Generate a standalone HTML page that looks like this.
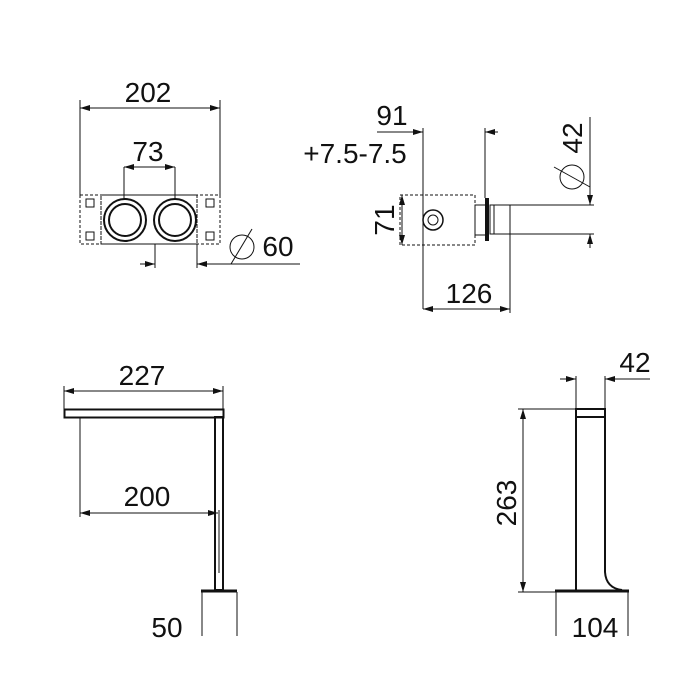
<!DOCTYPE html>
<html><head><style>html,body{margin:0;padding:0;background:#fff}svg{display:block}</style></head>
<body>
<svg width="700" height="700" viewBox="0 0 700 700" xmlns="http://www.w3.org/2000/svg" font-family="Liberation Sans, sans-serif" font-size="28" fill="#111">
<defs>
<marker id="a" viewBox="0 0 10 6" refX="10" refY="3" markerWidth="10" markerHeight="6" orient="auto-start-reverse" markerUnits="userSpaceOnUse"><path d="M0,0 L10,3 L0,6 z" fill="#111"/></marker>
</defs>
<g stroke="#111" stroke-width="1" fill="none">
<!-- top-left -->
<line x1="80" y1="108" x2="220" y2="108" marker-start="url(#a)" marker-end="url(#a)"/>
<line x1="80" y1="100" x2="80" y2="195"/><line x1="220" y1="100" x2="220" y2="195"/>
<rect x="80" y="195" width="140" height="49" stroke-dasharray="3,2"/>
<rect x="101" y="195" width="96" height="49" stroke-dasharray="4,1"/>
<circle cx="125" cy="220" r="21" stroke-width="2"/><circle cx="125" cy="220" r="16" stroke-width="2"/>
<circle cx="175" cy="220" r="21" stroke-width="2"/><circle cx="175" cy="220" r="16" stroke-width="2"/>
<rect x="86" y="199" width="8" height="8"/><rect x="86" y="232" width="8" height="8"/>
<rect x="206" y="199" width="8" height="8"/><rect x="206" y="232" width="8" height="8"/>
<line x1="124" y1="167" x2="175" y2="167" marker-start="url(#a)" marker-end="url(#a)"/>
<line x1="124" y1="167" x2="124" y2="200"/><line x1="175" y1="167" x2="175" y2="200"/>
<line x1="140" y1="264" x2="155" y2="264" marker-end="url(#a)"/>
<line x1="300" y1="264" x2="197" y2="264" marker-end="url(#a)"/>
<line x1="155" y1="244" x2="155" y2="268"/><line x1="197" y1="244" x2="197" y2="268"/>
<circle cx="242" cy="247" r="12"/><line x1="231" y1="264" x2="252" y2="229"/>
<!-- top-right -->
<line x1="377" y1="132" x2="423" y2="132" marker-end="url(#a)"/>
<line x1="498" y1="132" x2="485" y2="132" marker-end="url(#a)"/>
<line x1="423" y1="128" x2="423" y2="309"/><line x1="485" y1="128" x2="485" y2="198"/>
<rect x="400" y="195" width="75" height="50" stroke-dasharray="3,2"/>
<line x1="402" y1="195" x2="402" y2="245" marker-start="url(#a)" marker-end="url(#a)"/>
<circle cx="433" cy="220" r="10" stroke-width="1.5"/><circle cx="433" cy="220" r="5"/>
<rect x="475" y="205" width="11" height="30"/>
<line x1="487" y1="198" x2="487" y2="241" stroke-width="4"/>
<rect x="490" y="205" width="4" height="29"/>
<rect x="494" y="205" width="16" height="29"/>
<line x1="510" y1="205" x2="594" y2="205"/><line x1="510" y1="234" x2="594" y2="234"/>
<line x1="590" y1="117" x2="590" y2="205" marker-end="url(#a)"/>
<line x1="590" y1="248" x2="590" y2="234" marker-end="url(#a)"/>
<circle cx="572" cy="177" r="12"/><line x1="554" y1="167" x2="590" y2="187"/>
<line x1="423" y1="309" x2="510" y2="309" marker-start="url(#a)" marker-end="url(#a)"/>
<line x1="510" y1="234" x2="510" y2="313"/>
<!-- bottom-left -->
<line x1="64" y1="391" x2="223" y2="391" marker-start="url(#a)" marker-end="url(#a)"/>
<line x1="64" y1="386" x2="64" y2="409"/><line x1="223" y1="386" x2="223" y2="409"/>
<rect x="64.5" y="409.5" width="159" height="8" stroke-width="2"/>
<rect x="215" y="417" width="8" height="173" stroke-width="2"/>
<line x1="219" y1="510" x2="219" y2="573"/>
<line x1="80" y1="417" x2="80" y2="517"/>
<line x1="80" y1="513" x2="218" y2="513" marker-start="url(#a)" marker-end="url(#a)"/>
<line x1="201" y1="591" x2="237" y2="591" stroke-width="3"/>
<line x1="202" y1="592" x2="202" y2="636"/><line x1="237" y1="592" x2="237" y2="636"/>
<!-- bottom-right -->
<line x1="560" y1="379" x2="576" y2="379" marker-end="url(#a)"/>
<line x1="650" y1="379" x2="605" y2="379" marker-end="url(#a)"/>
<line x1="576" y1="376" x2="576" y2="409"/><line x1="605" y1="376" x2="605" y2="409"/>
<rect x="576" y="409" width="29" height="8" stroke-width="2"/>
<line x1="576" y1="417" x2="576" y2="590" stroke-width="2"/>
<path d="M605,417 L605,572 Q606,588 622,590" stroke-width="2"/>
<line x1="555" y1="591" x2="629" y2="591" stroke-width="3"/>
<line x1="556" y1="592" x2="556" y2="636"/><line x1="628" y1="592" x2="628" y2="636"/>
<line x1="518" y1="409" x2="576" y2="409"/><line x1="518" y1="592" x2="556" y2="592"/>
<line x1="523" y1="409" x2="523" y2="592" marker-start="url(#a)" marker-end="url(#a)"/>
</g>
<g stroke="none">
<text x="148" y="102" text-anchor="middle">202</text>
<text x="148" y="161" text-anchor="middle">73</text>
<text x="278" y="256" text-anchor="middle">60</text>
<text x="392" y="125" text-anchor="middle">91</text>
<text x="355" y="163" text-anchor="middle">+7.5-7.5</text>
<text transform="translate(394,220) rotate(-90)" text-anchor="middle">71</text>
<text transform="translate(582,138) rotate(-90)" text-anchor="middle">42</text>
<text x="469" y="303" text-anchor="middle">126</text>
<text x="142" y="385" text-anchor="middle">227</text>
<text x="147" y="506" text-anchor="middle">200</text>
<text x="167" y="637" text-anchor="middle">50</text>
<text x="635" y="372" text-anchor="middle">42</text>
<text transform="translate(516,503) rotate(-90)" text-anchor="middle">263</text>
<text x="595" y="637" text-anchor="middle">104</text>
</g>
</svg>
</body></html>
